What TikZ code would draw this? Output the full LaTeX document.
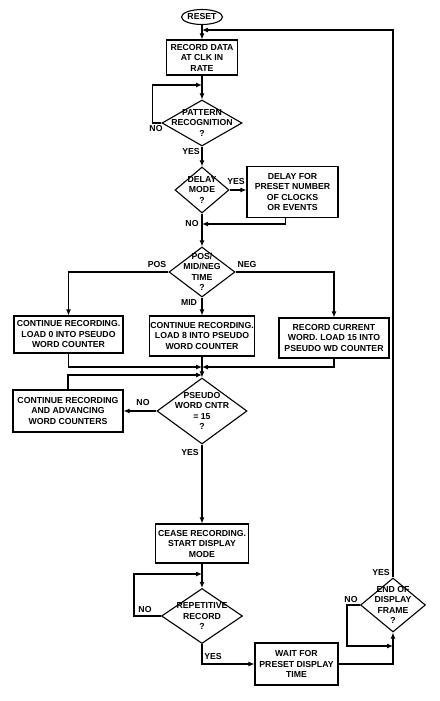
\documentclass[tikz,border=0pt]{standalone}
\usepackage{fontspec}
\setmainfont{Liberation Sans}
\usetikzlibrary{shapes.geometric,arrows.meta}
\begin{document}
\begin{tikzpicture}[
    x=1pt, y=-1pt, line width=1.1pt,
    every node/.style={font=\fontsize{8.7}{10.5}\selectfont\bfseries},
    blk/.style={draw, align=center, inner sep=1pt},
    dec/.style={draw, diamond, inner sep=0pt},
    txt/.style={align=center, inner sep=0pt},
    lbl/.style={inner sep=0pt},
    arr/.style={-{Latex[length=6pt,width=5pt]}}
]
\useasboundingbox (0,0) rectangle (439,701);

% Start and record
\node[draw, ellipse, minimum width=39pt, minimum height=15pt, inner sep=0pt] (reset) at (202,17) {RESET};
\node[blk, minimum width=71pt, minimum height=35pt] (rec) at (202,57.5) {RECORD DATA\\AT CLK IN\\RATE};

% Pattern and delay decisions
\node[dec, minimum width=80pt, minimum height=46pt] (pat) at (202,123) {};
\node[txt] (pat-t) at (pat) {PATTERN\\RECOGNITION\\?};
\node[dec, minimum width=54pt, minimum height=46pt] (del) at (202,190) {};
\node[txt] (del-t) at (del) {DELAY\\MODE\\?};
\node[blk, minimum width=91pt, minimum height=51pt] (dly) at (292.5,192) {DELAY FOR\\PRESET NUMBER\\OF CLOCKS\\OR EVENTS};

% Pos/mid/neg branch
\node[dec, minimum width=66pt, minimum height=50pt] (pmn) at (202,272) {};
\node[txt] (pmn-t) at (pmn) {POS/\\MID/NEG\\TIME\\?};
\node[blk, minimum width=109pt, minimum height=37pt] (lbox) at (68.5,334.5) {CONTINUE RECORDING.\\LOAD 0 INTO PSEUDO\\WORD COUNTER};
\node[blk, minimum width=105pt, minimum height=40pt] (mbox) at (202,336) {CONTINUE RECORDING.\\LOAD 8 INTO PSEUDO\\WORD COUNTER};
\node[blk, minimum width=110pt, minimum height=40pt] (rbox) at (334,338) {RECORD CURRENT\\WORD. LOAD 15 INTO\\PSEUDO WD COUNTER};

% Pseudo word counter
\node[dec, minimum width=90pt, minimum height=66pt] (psw) at (202,411) {};
\node[txt] (psw-t) at (psw) {PSEUDO\\WORD CNTR\\= 15\\?};
\node[blk, minimum width=110pt, minimum height=42pt] (cbox) at (68,411) {CONTINUE RECORDING\\AND ADVANCING\\WORD COUNTERS};

% Display part
\node[blk, minimum width=93pt, minimum height=39pt] (cease) at (202,543.5) {CEASE RECORDING.\\START DISPLAY\\MODE};
\node[dec, minimum width=81pt, minimum height=55pt] (rep) at (202,616) {};
\node[txt] (rep-t) at (rep) {REPETITIVE\\RECORD\\?};
\node[blk, minimum width=83pt, minimum height=42pt] (wait) at (296.5,664) {WAIT FOR\\PRESET DISPLAY\\TIME};
\node[dec, minimum width=65pt, minimum height=54pt] (eod) at (393,605) {};
\node[txt] (eod-t) at (eod) {END OF\\DISPLAY\\FRAME\\?};

% Junctions
\coordinate (j1) at (202,30);
\coordinate (j2) at (202,85);
\coordinate (j3) at (202,224);
\coordinate (j4) at (202,367);
\coordinate (j5) at (202,375);
\coordinate (j6) at (202,574);
\coordinate (j7) at (393,646);

% Connectors
\draw[arr] (reset) -- (rec);
\draw[arr] (rec) -- (pat);
\draw[arr] (pat.west) -- ++(-9,0) |- (j2);
\draw[arr] (pat) -- (del);
\draw[arr] (del.east) -- (dly.west |- del.east);
\draw[arr] ([xshift=-7pt]dly.south) |- (j3);
\draw[arr] (del) -- (pmn);
\draw[arr] (pmn.west) -| (lbox);
\draw[arr] (pmn.east) -| (rbox);
\draw[arr] (pmn) -- (mbox);
\draw[arr] (lbox) |- (j4);
\draw[arr] (rbox) |- (j4);
\draw[arr] (mbox) -- (psw);
\draw[arr] (cbox) |- (j5);
\draw[arr] (psw) -- (cbox);
\draw[arr] (psw) -- (cease);
\draw[arr] (cease) -- (rep);
\draw[arr] (rep.west) -- ++(-27,0) |- (j6);
\draw[arr] (rep) |- (wait);
\draw[arr] (wait) -| (eod);
\draw[arr] (eod.west) -- ++(-13,0) |- (j7);
\draw[arr] (eod) |- (j1);

% Branch labels
\node[lbl] (l1) at (156,129) {NO};
\node[lbl] (l2) at (191,152) {YES};
\node[lbl] (l3) at (236,182) {YES};
\node[lbl] (l4) at (192,224) {NO};
\node[lbl] (l5) at (157,265) {POS};
\node[lbl] (l6) at (247,265) {NEG};
\node[lbl] (l7) at (189,303) {MID};
\node[lbl] (l8) at (143,403) {NO};
\node[lbl] (l9) at (190,452) {YES};
\node[lbl] (l10) at (145,609) {NO};
\node[lbl] (l11) at (213,656) {YES};
\node[lbl] (l12) at (381,572) {YES};
\node[lbl] (l13) at (351,599) {NO};
\end{tikzpicture}
\end{document}
